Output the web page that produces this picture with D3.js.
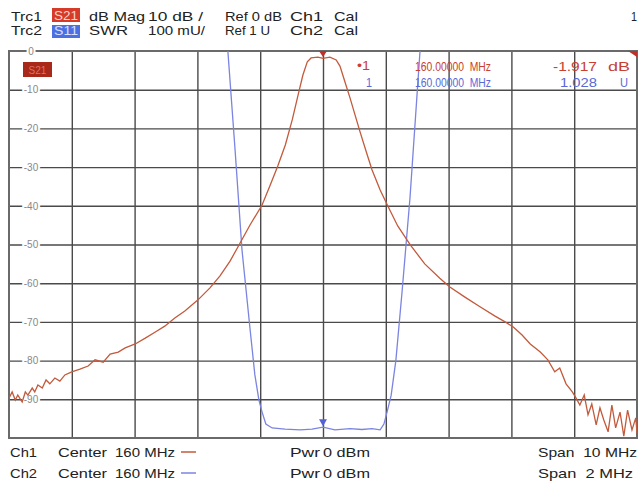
<!DOCTYPE html>
<html>
<head>
<meta charset="utf-8">
<script src="https://cdn.jsdelivr.net/npm/d3@7"></script>
<style>
  html, body { margin: 0; padding: 0; background: #fff; }
  svg { display: block; font-family: "Liberation Sans", Arial, sans-serif; }
</style>
</head>
<body>
<svg id="chart" width="639" height="484"></svg>
<script>
// ---------------- DATA ----------------
// Trace 1: S21, dB Mag, Center 160 MHz, Span 10 MHz
const s21Freq = [155.00,155.05,155.10,155.14,155.21,155.26,155.30,155.37,155.41,155.46,155.53,155.59,155.65,155.73,155.81,155.89,
  156.00,156.13,156.26,156.37,156.50,156.61,156.74,156.85,157.01,157.17,157.33,157.48,157.64,157.80,158.01,158.20,158.36,158.52,
  158.68,158.84,159.03,159.16,159.28,159.40,159.51,159.60,159.68,159.75,159.81,159.92,160.00,160.11,160.21,160.27,160.35,160.43,
  160.51,160.59,160.69,160.78,160.91,161.04,161.19,161.39,161.62,161.86,162.02,162.26,162.50,162.74,162.90,163.03,163.17,163.30,
  163.46,163.58,163.69,163.77,163.87,163.97,164.03,164.09,164.16,164.22,164.28,164.35,164.41,164.47,164.54,164.60,164.66,164.73,
  164.79,164.85,164.92,164.98,165.00];
const s21Db = [-89.7,-88.1,-90.2,-88.9,-90.7,-88.1,-88.9,-87.1,-88.1,-86.3,-87.1,-85.0,-86.0,-84.5,-85.3,-83.7,
  -82.9,-82.2,-81.4,-79.8,-80.4,-78.3,-77.8,-76.7,-75.7,-74.2,-72.6,-71.1,-69.0,-67.2,-64.3,-61.2,-58.1,-54.3,
  -49.6,-44.9,-39.8,-34.6,-29.7,-24.3,-17.8,-11.6,-6.2,-2.8,-1.8,-1.6,-1.9,-1.6,-2.3,-3.9,-8.0,-12.1,
  -16.5,-20.9,-26.1,-30.7,-35.9,-40.3,-45.2,-50.1,-55.0,-58.7,-61.0,-63.6,-66.1,-68.5,-70.0,-71.3,-73.4,-75.7,
  -77.8,-79.8,-82.9,-81.9,-86.0,-88.1,-89.7,-91.5,-88.9,-94.0,-91.2,-96.6,-92.2,-95.3,-98.4,-91.5,-97.4,-93.3,
  -99.5,-92.8,-97.9,-94.8,-98.7];

// Trace 2: S11, SWR, Center 160 MHz, Span 2 MHz
const s11Freq = [159.660,159.697,159.720,159.742,159.768,159.783,159.796,159.806,159.818,159.838,159.879,159.927,159.965,
  160.000,160.038,160.086,160.124,160.156,160.182,160.194,160.204,160.217,160.232,160.252,160.277,160.309,160.340];
const s11Swr = [2.2,2.0,1.744,1.486,1.279,1.163,1.098,1.067,1.036,1.026,1.023,1.021,1.023,
  1.028,1.021,1.024,1.022,1.024,1.021,1.036,1.067,1.11,1.2,1.38,1.62,2.0,2.2];

// Axis settings / tick labels
const dbTicks = [0,-10,-20,-30,-40,-50,-60,-70,-80,-90];
const dbTickLabels = ["0","-10","-20","-30","-40","-50","-60","-70","-80","-90"];
const freqGrid = [156,157,158,159,160,161,162,163,164];
const s21Domain = [155,165];
const s11Domain = [159,161];
const dbDomain = [-100,0];
const swrDomain = [1,2];

const header1 = ["Trc1","S21","dB Mag","10 dB /","Ref 0 dB","Ch1","Cal","1"];
const header2 = ["Trc2","S11","SWR","100 mU/","Ref 1 U","Ch2","Cal"];
const footer1 = ["Ch1","Center","160 MHz","Pwr","0 dBm","Span  10 MHz"];
const footer2 = ["Ch2","Center","160 MHz","Pwr","0 dBm","Span  2 MHz"];
const marker1 = ["\u20221","160.00000  MHz","-1.917","dB"];
const marker2 = ["1","160.00000  MHz","1.028","U"];

// ---------------- LAYOUT ----------------
const L = 9, R = 637, T = 51, B = 438;
const RED = "#c25a3c", BLUE = "#7b84e0";
const svg = d3.select("#chart");

const xS21 = d3.scaleLinear().domain(s21Domain).range([L, R]);
const xS11 = d3.scaleLinear().domain(s11Domain).range([L, R]);
const yDb = d3.scaleLinear().domain(dbDomain).range([B, T]);
const ySwr = d3.scaleLinear().domain(swrDomain).range([B, T]);

svg.append("defs").append("clipPath").attr("id","plotclip")
  .append("rect").attr("x", L).attr("y", T).attr("width", R - L).attr("height", B - T);

// grid: vertical
const gx = svg.append("g").attr("transform", `translate(0,${B})`)
  .call(d3.axisBottom(xS21).tickValues(freqGrid).tickSize(-(B - T)).tickFormat(""));
gx.select(".domain").remove();
gx.selectAll(".tick line").attr("stroke", "#4a4a4a").attr("stroke-width", 1.4);

// grid: horizontal
const gy = svg.append("g").attr("transform", `translate(${L},0)`)
  .call(d3.axisLeft(yDb).tickValues(dbTicks.filter(d => d !== 0)).tickSize(-(R - L)).tickFormat(""));
gy.select(".domain").remove();
gy.selectAll(".tick line").attr("stroke", "#4a4a4a").attr("stroke-width", 1.4);

// frame
svg.append("rect").attr("x", L).attr("y", T).attr("width", R - L).attr("height", B - T)
  .attr("fill", "none").attr("stroke", "#6a6a6a").attr("stroke-width", 2);

// y tick labels (dB)
const ylab = svg.append("g").attr("transform", `translate(31,0)`)
  .call(d3.axisLeft(yDb).tickValues(dbTicks).tickSize(0).tickPadding(0)
    .tickFormat((d, i) => dbTickLabels[i]));
ylab.select(".domain").remove();
ylab.selectAll("text")
  .attr("text-anchor", "middle").attr("x", 0)
  .attr("fill", "#888").attr("font-size", 10)
  .attr("font-family", "Liberation Sans, Arial, sans-serif")
  .attr("stroke", "#fff").attr("stroke-width", 4).attr("paint-order", "stroke");

// traces
const plot = svg.append("g").attr("clip-path", "url(#plotclip)");
const s21Pts = s21Freq.map((f, i) => [f, s21Db[i]]);
const s11Pts = s11Freq.map((f, i) => [f, s11Swr[i]]);

plot.append("path").datum(s11Pts)
  .attr("fill", "none").attr("stroke", BLUE).attr("stroke-width", 1.3)
  .attr("d", d3.line().x(d => xS11(d[0])).y(d => ySwr(d[1])));
plot.append("path").datum(s21Pts)
  .attr("fill", "none").attr("stroke", RED).attr("stroke-width", 1.3)
  .attr("d", d3.line().x(d => xS21(d[0])).y(d => yDb(d[1])));

// markers
const mx = xS21(160);
svg.append("path").attr("fill", "#c0302a")
  .attr("d", `M${mx - 4},${T} L${mx + 4},${T} L${mx},${T + 6} Z`);
const my = ySwr(1.028);
svg.append("path").attr("fill", "#5560d8")
  .attr("d", `M${xS11(160) - 4},${my - 8} L${xS11(160) + 4},${my - 8} L${xS11(160)},${my - 1} Z`);
svg.append("path").attr("fill", "#c0302a")
  .attr("d", `M${R - 9},${T} L${R},${T} L${R},${T + 6} Z`);

// active trace label inside plot
svg.append("rect").attr("x", 23).attr("y", 62).attr("width", 29).attr("height", 15).attr("fill", "#a8281a");
svg.append("text").attr("x", 37.5).attr("y", 73.5).attr("text-anchor", "middle")
  .attr("font-size", 10).attr("fill", "#e07060").text("S21");

// text helper
function txt(x, y, s, w, opts = {}) {
  const t = svg.append("text").attr("x", x).attr("y", y)
    .attr("font-size", opts.size || 13.5)
    .attr("fill", opts.fill || "#222")
    .attr("xml:space", "preserve")
    .style("white-space", "pre")
    .text(s);
  if (w) t.attr("textLength", w).attr("lengthAdjust", "spacingAndGlyphs");
  if (opts.anchor) t.attr("text-anchor", opts.anchor);
  return t;
}

// header boxes
svg.append("rect").attr("x", 52).attr("y", 8).attr("width", 28).attr("height", 14).attr("fill", "#d63a28");
svg.append("rect").attr("x", 52).attr("y", 25).attr("width", 28).attr("height", 13).attr("fill", "#4d6fe2");

// header row 1
txt(11, 21, header1[0], 31);
txt(54, 20, header1[1], 24, {fill: "#fbd6cc", size: 12.5});
txt(89, 21, header1[2], 56);
txt(148, 21, header1[3], 55);
txt(225, 21, header1[4], 57);
txt(290, 21, header1[5], 33);
txt(334, 21, header1[6], 24);
txt(631, 21, header1[7], 6);
// header row 2
txt(11, 35, header2[0], 31);
txt(54, 35, header2[1], 24, {fill: "#d8e0ff", size: 12.5});
txt(89, 35, header2[2], 39);
txt(148, 35, header2[3], 57);
txt(225, 35, header2[4], 45);
txt(290, 35, header2[5], 33);
txt(334, 35, header2[6], 24);

// marker readouts
const MRED = "#c8402f", MBLUE = "#5a68d8";
txt(357, 70, marker1[0], 13, {fill: MRED, size: 12.5});
txt(415, 71, marker1[1], 76, {fill: MRED, size: 12.5});
txt(553, 71, marker1[2], 44, {fill: MRED, size: 12.5});
txt(608, 71, marker1[3], 22, {fill: MRED, size: 12.5});
txt(366, 87, marker2[0], 6, {fill: MBLUE, size: 12.5});
txt(415, 87, marker2[1], 76, {fill: MBLUE, size: 12.5});
txt(560, 87, marker2[2], 37, {fill: MBLUE, size: 12.5});
txt(620, 87, marker2[3], 8, {fill: MBLUE, size: 12.5});

// footer
txt(10, 457, footer1[0], 27);
txt(58, 457, footer1[1], 49);
txt(115, 457, footer1[2], 60);
txt(290, 457, footer1[3], 30);
txt(323, 457, footer1[4], 47);
txt(538, 457, footer1[5], 99);
svg.append("line").attr("x1", 181).attr("x2", 196).attr("y1", 452).attr("y2", 452)
  .attr("stroke", RED).attr("stroke-width", 1.5);

txt(10, 478, footer2[0], 27);
txt(58, 478, footer2[1], 49);
txt(115, 478, footer2[2], 60);
txt(290, 478, footer2[3], 30);
txt(323, 478, footer2[4], 47);
txt(538, 478, footer2[5], 95);
svg.append("line").attr("x1", 181).attr("x2", 196).attr("y1", 473).attr("y2", 473)
  .attr("stroke", BLUE).attr("stroke-width", 1.5);
</script>
</body>
</html>
